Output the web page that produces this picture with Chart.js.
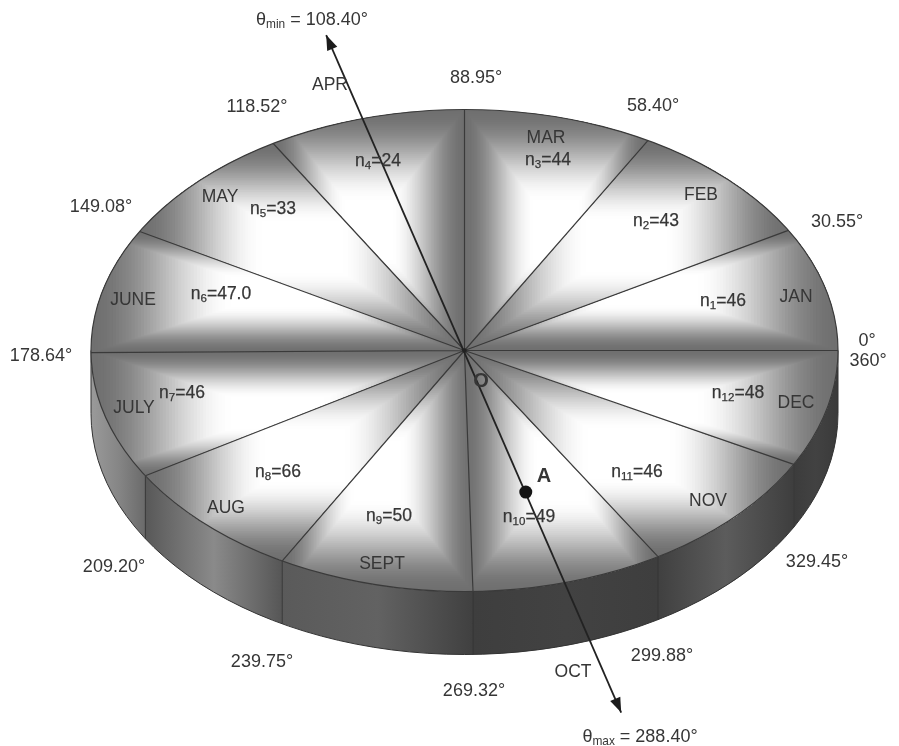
<!DOCTYPE html>
<html>
<head>
<meta charset="utf-8">
<title>Monthly sectors</title>
<script src="https://cdn.jsdelivr.net/npm/chart.js@4"></script>
<style>
    html, body { margin: 0; padding: 0; background: #fff; }
    canvas { display: block; filter: blur(0.45px); }
</style>
</head>
<body>
<canvas id="discChart" width="899" height="746"></canvas>
<script>
// Values
const months = ['JAN', 'FEB', 'MAR', 'APR', 'MAY', 'JUNE', 'JULY', 'AUG', 'SEPT', 'OCT', 'NOV', 'DEC'];
const counts = ['46', '43', '44', '24', '33', '47.0', '46', '66', '50', '49', '46', '48'];
// printed angle at each sector border
const boundaries = [0, 30.55, 58.40, 88.95, 118.52, 149.08, 178.64, 209.20, 239.75, 269.32, 299.88, 329.45, 360];
// where those borders are actually drawn on the disc
const drawnAngles = [0, 29.9, 60.6, 90, 120.8, 150.4, 180.5, 211.3, 240.8, 271.3, 301.2, 331.8, 360];
const thetaMin = 108.40;
const thetaMax = 288.40;
const axisAngle = 105.8;   // drawn direction of the theta axis, upper end
const pointAAngle = 285.6; // and its lower end, which carries point A

// Text placement (centre of each label, px)
const monthPos = [[796, 297], [701, 195], [546, 138], [330, 85], [220, 197], [133, 300], [134, 408], [226, 508], [382, 564], [573, 672], [708, 501], [796, 403]];
const countPos = [[723, 301], [656, 221], [548, 160], [378, 161], [273, 209], [221, 294], [182, 393], [278, 472], [389, 516], [529, 517], [637, 472], [738, 393]];
const anglePos = [[867, 341], [837, 222], [653, 106], [476, 78], [257, 107], [101, 207], [41, 356], [114, 567], [262, 662], [474, 691], [662, 656], [817, 562], [868, 361]];

// Shading of the side wall, one triple per sector that shows it
const wallShades = {
    5: ['#9a9a9a', '#868686', '#6a6a6a'],
    6: ['#9a9a9a', '#868686', '#6a6a6a'],
    7: ['#585858', '#8a8a8a', '#565656'],
    8: ['#5a5a5a', '#626262', '#404040'],
    9: ['#3e3e3e', '#424242', '#3e3e3e'],
    10: ['#404040', '#5c5c5c', '#3e3e3e'],
    11: ['#3c3c3c', '#424242', '#3a3a3a']
};

const ELL_A = 373.5;
const ELL_B = 241;
const WALL = 63;
const FONT = '"Liberation Sans", Arial, sans-serif';
const TEXT_COLOR = '#363636';
const EDGE_GREY = 112;    // darkest value of the sector fill
const WHITE_CORE = 0.24;  // fraction of the box that stays white
const FILL_STEPS = 60;

const rad = d => d * Math.PI / 180;

// pie slices run clockwise from the east, so feed the months backwards
const sliceWidths = months.map((m, i) => drawnAngles[i + 1] - drawnAngles[i]).reverse();

function discCentre(chart) {
    const a = chart.chartArea;
    return { x: (a.left + a.right) / 2, y: (a.top + a.bottom) / 2, r: Math.min(a.right - a.left, a.bottom - a.top) / 2 };
}

function ellipsePoint(cx, cy, angle, k) {
    return { x: cx + k * ELL_A * Math.cos(rad(angle)), y: cy - k * ELL_B * Math.sin(rad(angle)) };
}

function drawWall(ctx, cx, cy) {
    months.forEach((m, i) => {
        const shades = wallShades[i];
        if (!shades) return;
        const from = Math.max(drawnAngles[i], 180);
        const to = drawnAngles[i + 1];
        const x1 = cx + ELL_A * Math.cos(rad(from));
        const x2 = cx + ELL_A * Math.cos(rad(to));
        const g = ctx.createLinearGradient(x1, 0, x2, 0);
        g.addColorStop(0, shades[0]);
        g.addColorStop(0.5, shades[1]);
        g.addColorStop(1, shades[2]);
        ctx.beginPath();
        ctx.ellipse(cx, cy, ELL_A, ELL_B, 0, -rad(from), -rad(to), true);
        ctx.ellipse(cx, cy + WALL, ELL_A, ELL_B, 0, -rad(to), -rad(from), false);
        ctx.closePath();
        ctx.fillStyle = g;
        ctx.fill();
    });
    // outline and facet edges
    ctx.strokeStyle = '#333';
    ctx.lineWidth = 1;
    ctx.beginPath();
    ctx.ellipse(cx, cy + WALL, ELL_A, ELL_B, 0, 0, Math.PI);
    ctx.moveTo(cx + ELL_A, cy);
    ctx.lineTo(cx + ELL_A, cy + WALL);
    ctx.moveTo(cx - ELL_A, cy);
    ctx.lineTo(cx - ELL_A, cy + WALL);
    drawnAngles.forEach(b => {
        if (b <= 181 || b >= 360) return;
        const p = ellipsePoint(cx, cy, b, 1);
        ctx.moveTo(p.x, p.y);
        ctx.lineTo(p.x, p.y + WALL);
    });
    ctx.stroke();
}

// Square fountain fill: concentric boxes around the middle of the sector's bounding box
function shadeSector(ctx, cx, cy, from, to) {
    const pts = [{ x: cx, y: cy }, ellipsePoint(cx, cy, from, 1), ellipsePoint(cx, cy, to, 1)];
    [0, 90, 180, 270, 360].forEach(q => {
        if (q > from && q < to) pts.push(ellipsePoint(cx, cy, q, 1));
    });
    const left = Math.min(...pts.map(p => p.x));
    const right = Math.max(...pts.map(p => p.x));
    const top = Math.min(...pts.map(p => p.y));
    const bottom = Math.max(...pts.map(p => p.y));
    const mx = (left + right) / 2;
    const my = (top + bottom) / 2;

    ctx.save();
    ctx.beginPath();
    ctx.moveTo(cx, cy);
    ctx.ellipse(cx, cy, ELL_A, ELL_B, 0, -rad(from), -rad(to), true);
    ctx.closePath();
    ctx.clip();
    for (let s = 0; s < FILL_STEPS; s++) {
        const t = 1 - s / FILL_STEPS;
        const u = t <= WHITE_CORE ? 0 : (t - WHITE_CORE) / (1 - WHITE_CORE);
        const f = u * u * (3 - 2 * u); // soft knee at both ends
        const v = Math.round(255 - (255 - EDGE_GREY) * f);
        ctx.fillStyle = 'rgb(' + v + ',' + v + ',' + v + ')';
        ctx.fillRect(mx - (mx - left) * t, my - (my - top) * t, (right - left) * t, (bottom - top) * t);
    }
    ctx.restore();
}

function drawText(ctx, text, x, y, size, weight) {
    ctx.font = (weight || 'normal') + ' ' + size + 'px ' + FONT;
    ctx.fillStyle = TEXT_COLOR;
    ctx.textAlign = 'center';
    ctx.textBaseline = 'middle';
    ctx.fillText(text, x, y);
}

// text with a subscript part, centred on x
function drawSubText(ctx, base, sub, rest, x, y, size, heavy) {
    const mainFont = size + 'px ' + FONT;
    const subFont = (size * 0.66) + 'px ' + FONT;
    ctx.font = mainFont;
    const w1 = ctx.measureText(base).width;
    const w3 = ctx.measureText(rest).width;
    ctx.font = subFont;
    const w2 = ctx.measureText(sub).width;
    let left = x - (w1 + w2 + w3) / 2;
    ctx.fillStyle = TEXT_COLOR;
    ctx.strokeStyle = TEXT_COLOR;
    ctx.lineWidth = 0.25;
    ctx.textAlign = 'left';
    ctx.textBaseline = 'middle';
    const put = (txt, font, px, py) => {
        ctx.font = font;
        ctx.fillText(txt, px, py);
        if (heavy) ctx.strokeText(txt, px, py);
    };
    put(base, mainFont, left, y);
    left += w1;
    put(sub, subFont, left, y + size * 0.26);
    left += w2;
    put(rest, mainFont, left, y);
}

function drawArrowHead(ctx, from, tip) {
    const a = Math.atan2(tip.y - from.y, tip.x - from.x);
    const len = 15, half = 5.5;
    ctx.beginPath();
    ctx.moveTo(tip.x, tip.y);
    ctx.lineTo(tip.x - len * Math.cos(a) + half * Math.sin(a), tip.y - len * Math.sin(a) - half * Math.cos(a));
    ctx.lineTo(tip.x - len * Math.cos(a) - half * Math.sin(a), tip.y - len * Math.sin(a) + half * Math.cos(a));
    ctx.closePath();
    ctx.fillStyle = '#1c1c1c';
    ctx.fill();
}

const discPlugin = {
    id: 'discPlugin',
    beforeDatasetsDraw(chart) {
        const ctx = chart.ctx;
        const c = discCentre(chart);
        drawWall(ctx, c.x, c.y);
        // squash the round pie into the disc's ellipse
        ctx.save();
        ctx.translate(c.x, c.y);
        ctx.scale(ELL_A / c.r, ELL_B / c.r);
        ctx.translate(-c.x, -c.y);
    },
    afterDatasetsDraw(chart) {
        const ctx = chart.ctx;
        const c = discCentre(chart);
        ctx.restore();

        months.forEach((m, i) => shadeSector(ctx, c.x, c.y, drawnAngles[i], drawnAngles[i + 1]));

        // sector borders
        ctx.strokeStyle = '#3a3a3a';
        ctx.lineWidth = 1.2;
        ctx.beginPath();
        drawnAngles.forEach(b => {
            const p = ellipsePoint(c.x, c.y, b, 1);
            ctx.moveTo(c.x, c.y);
            ctx.lineTo(p.x, p.y);
        });
        ctx.stroke();
        ctx.beginPath();
        ctx.ellipse(c.x, c.y, ELL_A, ELL_B, 0, 0, Math.PI * 2);
        ctx.stroke();

        // the theta axis
        const tipMin = ellipsePoint(c.x, c.y, axisAngle, 1.36);
        const tipMax = ellipsePoint(c.x, c.y, pointAAngle, 1.56);
        ctx.strokeStyle = '#222';
        ctx.lineWidth = 1.8;
        ctx.beginPath();
        ctx.moveTo(tipMin.x, tipMin.y);
        ctx.lineTo(tipMax.x, tipMax.y);
        ctx.stroke();
        drawArrowHead(ctx, { x: c.x, y: c.y }, tipMin);
        drawArrowHead(ctx, { x: c.x, y: c.y }, tipMax);

        // point A on that axis
        const pointA = ellipsePoint(c.x, c.y, pointAAngle, 0.61);
        ctx.beginPath();
        ctx.arc(pointA.x, pointA.y, 6.5, 0, Math.PI * 2);
        ctx.fillStyle = '#141414';
        ctx.fill();

        ctx.beginPath();
        ctx.arc(c.x, c.y, 2.2, 0, Math.PI * 2);
        ctx.fillStyle = '#222';
        ctx.fill();

        // labels
        months.forEach((m, i) => {
            drawText(ctx, m, monthPos[i][0], monthPos[i][1], 17.5);
            drawSubText(ctx, 'n', String(i + 1), '=' + counts[i], countPos[i][0], countPos[i][1], 17.5, true);
        });
        boundaries.forEach((b, i) => {
            const txt = (Number.isInteger(b) ? String(b) : b.toFixed(2)) + '°';
            drawText(ctx, txt, anglePos[i][0], anglePos[i][1], 18);
        });
        drawSubText(ctx, 'θ', 'min', ' = ' + thetaMin.toFixed(2) + '°', 312, 20, 18);
        drawSubText(ctx, 'θ', 'max', ' = ' + thetaMax.toFixed(2) + '°', 640, 737, 18);
        drawText(ctx, 'O', 481, 381, 20, 'bold');
        drawText(ctx, 'A', 544, 476, 20, 'bold');
    }
};

new Chart(document.getElementById('discChart').getContext('2d'), {
    type: 'pie',
    data: {
        labels: months.slice().reverse(),
        datasets: [{
            data: sliceWidths,
            backgroundColor: '#ffffff',
            borderWidth: 0
        }]
    },
    options: {
        responsive: false,
        animation: false,
        rotation: 90,
        layout: { padding: { left: 224.5, right: 194.5, top: 110.5, bottom: 155.5 } },
        plugins: {
            legend: { display: false },
            tooltip: { enabled: false },
            title: { display: false }
        }
    },
    plugins: [discPlugin]
});
</script>
</body>
</html>
